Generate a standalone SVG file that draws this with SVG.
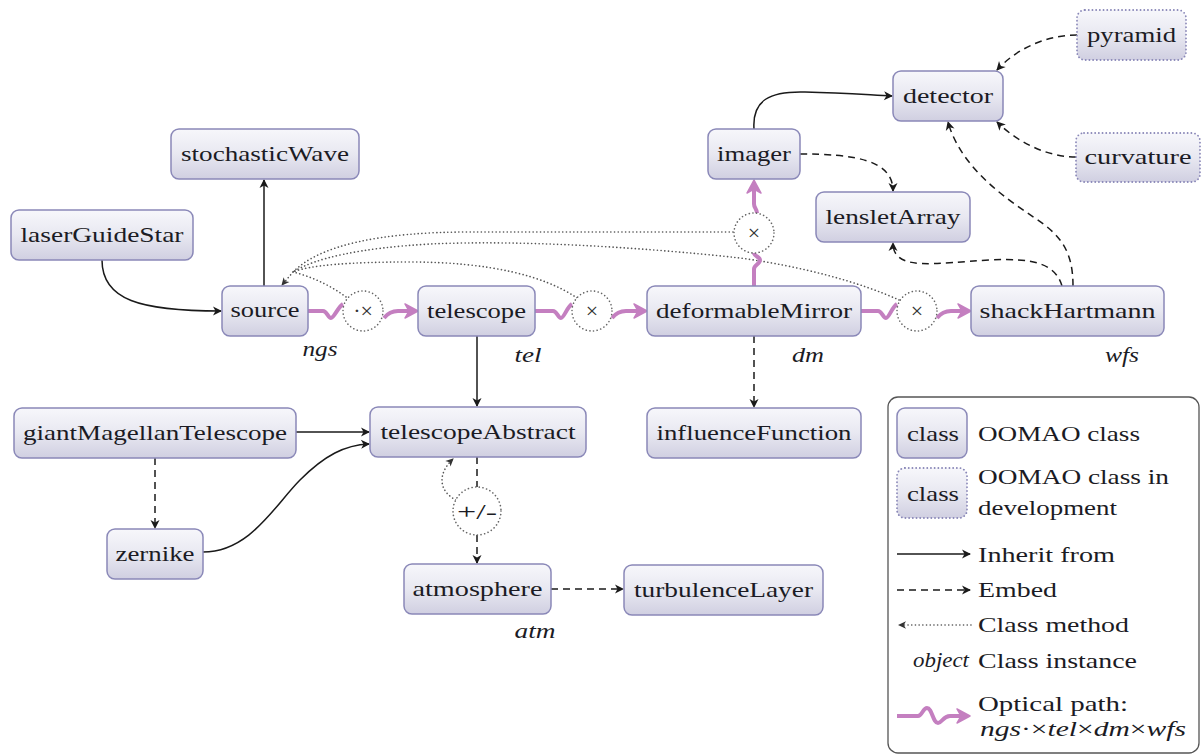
<svg xmlns="http://www.w3.org/2000/svg" width="1203" height="756" viewBox="0 0 1203 756" font-family="Liberation Serif, Tinos, DejaVu Serif, Noto Serif, FreeSerif, serif">
<style>
.box{fill:url(#g);stroke:#8a88b8;stroke-width:1.5}
.dev{fill:url(#g);stroke:#8a88b8;stroke-width:1.8;stroke-dasharray:0.1 3.6;stroke-linecap:round}
.t{font-size:22px;fill:#1b1b24;text-anchor:middle}
.it{font-size:22px;font-style:italic;fill:#1b1b24;text-anchor:middle}
.lt{font-size:22px;fill:#1b1b24}
.sol{fill:none;stroke:#1a1a1a;stroke-width:1.5}
.dash{fill:none;stroke:#1a1a1a;stroke-width:1.5;stroke-dasharray:7 5}
.dot{fill:none;stroke:#555;stroke-width:1.6;stroke-dasharray:0.1 3.6;stroke-linecap:round}
.opt{fill:none;stroke:#c47fc0;stroke-width:4;stroke-linejoin:round}
.circ{fill:#fff;stroke:#666;stroke-width:1.6;stroke-dasharray:0.1 3.6;stroke-linecap:round}
.ct{font-size:22px;fill:#333;text-anchor:middle}
</style>
<defs>
<linearGradient id="g" x1="0" y1="0" x2="0" y2="1">
<stop offset="0" stop-color="#f7f7fb"/>
<stop offset="0.5" stop-color="#e8e8f1"/>
<stop offset="1" stop-color="#d0cfe1"/>
</linearGradient>
<marker id="ab" markerUnits="userSpaceOnUse" markerWidth="20" markerHeight="20" orient="auto" overflow="visible">
<path d="M-8,-4.5 L1,0 L-8,4.5 L-5.5,0 z" fill="#1a1a1a"/>
</marker>
<marker id="ad" markerUnits="userSpaceOnUse" markerWidth="20" markerHeight="20" orient="auto" overflow="visible">
<path d="M-7,-3.8 L1,0 L-7,3.8 L-4.8,0 z" fill="#333"/>
</marker>
<marker id="ap" markerUnits="userSpaceOnUse" markerWidth="30" markerHeight="30" orient="auto" overflow="visible">
<path d="M-9,-7 L4,0 L-9,7 L-5,0 z" fill="#c47fc0" stroke="#c47fc0" stroke-width="1.5" stroke-linejoin="round"/>
</marker>
</defs>
<rect width="1203" height="756" fill="#fff"/>

<g id="connectors">
<path class="sol" d="M102,260 C102,300 140,311 221,311" marker-end="url(#ab)"/>
<path class="sol" d="M264,286 L264,180" marker-end="url(#ab)"/>
<path class="sol" d="M477,336 L477,406" marker-end="url(#ab)"/>
<path class="sol" d="M296,432 L369,432" marker-end="url(#ab)"/>
<path class="sol" d="M203,552 C250,552 275,505 300,480 C325,455 345,445 369,444" marker-end="url(#ab)"/>
<path class="dash" d="M155,458 L155,528" marker-end="url(#ab)"/>
<path class="dash" d="M477,457 L477,487"/>
<path class="dash" d="M477,535 L477,563" marker-end="url(#ab)"/>
<path class="dot" d="M456,500 C440,492 436,475 453,459" marker-end="url(#ad)"/>
<path class="dash" d="M551,589 L623,589" marker-end="url(#ab)"/>
<path class="dash" d="M754,336 L754,407" marker-end="url(#ab)"/>
<path class="sol" d="M754,129 C752,100 770,91 805,92 C845,93 870,95 892,96" marker-end="url(#ab)"/>
<path class="dash" d="M800,154 C855,154 893,160 893,191" marker-end="url(#ab)"/>
<path class="dash" d="M1062,286 C1055,262 1030,258 990,260 C935,263 893,272 893,243" marker-end="url(#ab)"/>
<path class="dash" d="M1073,286 C1073,250 1060,235 1035,218 C1000,195 960,165 948,122" marker-end="url(#ab)"/>
<path class="dash" d="M1077,35 C1045,35 1015,50 997,70" marker-end="url(#ab)"/>
<path class="dash" d="M1076,157 C1045,157 1015,140 997,122" marker-end="url(#ab)"/>
<path class="dot" d="M733,232 L470,232 C380,232 320,245 293,272"/>
<path class="dot" d="M899,300 C860,282 800,266 740,258 C640,247 520,240 430,244 C360,248 315,258 293,272"/>
<path class="dot" d="M577,298 C545,276 490,262 410,262 C350,262 310,265 293,272"/>
<path class="dot" d="M346,297 C330,285 310,276 293,272"/>
<path class="dot" d="M293,272 L282,285" marker-end="url(#ad)"/>
<path class="opt" d="M308,311 L323,311 C327,311 328,318 331,318 C334,318 338,307 343,304"/>
<path class="opt" d="M384,318 C388,313 392,311 398,311 L414,311" marker-end="url(#ap)"/>
<path class="opt" d="M535,311 L553,311 C557,311 558,318 561,318 C564,318 567,307 572,304"/>
<path class="opt" d="M612,318 C616,313 620,311 626,311 L643,311" marker-end="url(#ap)"/>
<path class="opt" d="M861,311 L878,311 C882,311 883,318 886,318 C889,318 892,307 897,304"/>
<path class="opt" d="M937,318 C941,313 945,311 951,311 L967,311" marker-end="url(#ap)"/>
<path class="opt" d="M754,286 L754,269 C754,265 760,264 760,260 C760,257 754,256 754,253"/>
<path class="opt" d="M757,213 C757,209 754,208 754,204 L754,184" marker-end="url(#ap)"/>
</g>

<g id="op1"><circle class="circ" cx="363" cy="311" r="20"/><text class="ct" x="363" y="318">·×</text></g>
<g id="op2"><circle class="circ" cx="592" cy="311" r="20"/><text class="ct" x="592" y="318">×</text></g>
<g id="op3"><circle class="circ" cx="917" cy="311" r="20"/><text class="ct" x="917" y="318">×</text></g>
<g id="op4"><circle class="circ" cx="754" cy="233" r="20"/><text class="ct" x="754" y="240">×</text></g>
<g id="op5"><circle class="circ" cx="477" cy="511" r="24"/><text class="t" x="477" y="519" textLength="40" lengthAdjust="spacingAndGlyphs">+/-</text></g>

<g id="stochasticWave"><rect class="box" x="171" y="129" width="188" height="50" rx="8"/><text class="t" x="265" y="161" textLength="168" lengthAdjust="spacingAndGlyphs">stochasticWave</text></g>
<g id="laserGuideStar"><rect class="box" x="11" y="210" width="182" height="50" rx="8"/><text class="t" x="102" y="242" textLength="163" lengthAdjust="spacingAndGlyphs">laserGuideStar</text></g>
<g id="source"><rect class="box" x="222" y="286" width="86" height="50" rx="8"/><text class="t" x="265" y="317" textLength="69" lengthAdjust="spacingAndGlyphs">source</text></g>
<g id="telescope"><rect class="box" x="418" y="286" width="117" height="50" rx="8"/><text class="t" x="476.5" y="318" textLength="99" lengthAdjust="spacingAndGlyphs">telescope</text></g>
<g id="deformableMirror"><rect class="box" x="647" y="286" width="214" height="50" rx="8"/><text class="t" x="754" y="318" textLength="196" lengthAdjust="spacingAndGlyphs">deformableMirror</text></g>
<g id="shackHartmann"><rect class="box" x="971" y="286" width="193" height="50" rx="8"/><text class="t" x="1067.5" y="318" textLength="176" lengthAdjust="spacingAndGlyphs">shackHartmann</text></g>
<g id="imager"><rect class="box" x="708" y="129" width="92" height="50" rx="8"/><text class="t" x="754" y="161" textLength="74" lengthAdjust="spacingAndGlyphs">imager</text></g>
<g id="lensletArray"><rect class="box" x="816" y="192" width="154" height="50" rx="8"/><text class="t" x="893" y="224" textLength="135" lengthAdjust="spacingAndGlyphs">lensletArray</text></g>
<g id="detector"><rect class="box" x="893" y="71" width="110" height="50" rx="8"/><text class="t" x="948" y="103" textLength="90" lengthAdjust="spacingAndGlyphs">detector</text></g>
<g id="pyramid"><rect class="dev" x="1077" y="10" width="109" height="50" rx="8"/><text class="t" x="1131.5" y="42" textLength="89" lengthAdjust="spacingAndGlyphs">pyramid</text></g>
<g id="curvature"><rect class="dev" x="1076" y="133" width="124" height="49" rx="8"/><text class="t" x="1138" y="164" textLength="107" lengthAdjust="spacingAndGlyphs">curvature</text></g>
<g id="giantMagellanTelescope"><rect class="box" x="14" y="408" width="282" height="50" rx="8"/><text class="t" x="155" y="440" textLength="264" lengthAdjust="spacingAndGlyphs">giantMagellanTelescope</text></g>
<g id="zernike"><rect class="box" x="107" y="529" width="96" height="50" rx="8"/><text class="t" x="155" y="561" textLength="79" lengthAdjust="spacingAndGlyphs">zernike</text></g>
<g id="telescopeAbstract"><rect class="box" x="370" y="407" width="216" height="50" rx="8"/><text class="t" x="478" y="439" textLength="195" lengthAdjust="spacingAndGlyphs">telescopeAbstract</text></g>
<g id="atmosphere"><rect class="box" x="404" y="564" width="147" height="50" rx="8"/><text class="t" x="477.5" y="596" textLength="130" lengthAdjust="spacingAndGlyphs">atmosphere</text></g>
<g id="turbulenceLayer"><rect class="box" x="624" y="565" width="199" height="50" rx="8"/><text class="t" x="723.5" y="597" textLength="179" lengthAdjust="spacingAndGlyphs">turbulenceLayer</text></g>
<g id="influenceFunction"><rect class="box" x="647" y="408" width="214" height="50" rx="8"/><text class="t" x="754" y="440" textLength="195" lengthAdjust="spacingAndGlyphs">influenceFunction</text></g>

<g id="instances">
<text class="it" x="320" y="356" textLength="35" lengthAdjust="spacingAndGlyphs">ngs</text>
<text class="it" x="528" y="362" textLength="27" lengthAdjust="spacingAndGlyphs">tel</text>
<text class="it" x="808" y="362" textLength="32" lengthAdjust="spacingAndGlyphs">dm</text>
<text class="it" x="1122" y="362" textLength="34" lengthAdjust="spacingAndGlyphs">wfs</text>
<text class="it" x="535" y="638" textLength="41" lengthAdjust="spacingAndGlyphs">atm</text>
</g>

<g id="legend">
<rect x="888" y="397" width="311" height="356" rx="10" fill="#fff" stroke="#555" stroke-width="1.3"/>
<rect class="box" x="897" y="408" width="70" height="50" rx="8"/>
<text class="t" x="933" y="441" textLength="52" lengthAdjust="spacingAndGlyphs">class</text>
<text class="lt" x="978" y="441" textLength="162" lengthAdjust="spacingAndGlyphs">OOMAO class</text>
<rect class="dev" x="897" y="468" width="70" height="50" rx="8"/>
<text class="t" x="933" y="501" textLength="52" lengthAdjust="spacingAndGlyphs">class</text>
<text class="lt" x="978" y="484" textLength="191" lengthAdjust="spacingAndGlyphs">OOMAO class in</text>
<text class="lt" x="978" y="515" textLength="139" lengthAdjust="spacingAndGlyphs">development</text>
<path class="sol" d="M897,554 L970,554" marker-end="url(#ab)"/>
<text class="lt" x="978" y="562" textLength="137" lengthAdjust="spacingAndGlyphs">Inherit from</text>
<path class="dash" d="M897,590 L970,590" marker-end="url(#ab)"/>
<text class="lt" x="978" y="597" textLength="79" lengthAdjust="spacingAndGlyphs">Embed</text>
<path class="dot" d="M971,625 L899,625" marker-end="url(#ad)"/>
<text class="lt" x="978" y="632" textLength="151" lengthAdjust="spacingAndGlyphs">Class method</text>
<text class="it" x="941" y="667" textLength="56" lengthAdjust="spacingAndGlyphs">object</text>
<text class="lt" x="978" y="668" textLength="159" lengthAdjust="spacingAndGlyphs">Class instance</text>
<path class="opt" d="M897,716 L918,716 C922,716 923,708 927,708 C932,708 933,723 938,723 C942,723 943,716 950,716 L966,716" marker-end="url(#ap)"/>
<text class="lt" x="978" y="711" textLength="150" lengthAdjust="spacingAndGlyphs">Optical path:</text>
<text class="lt" x="980" y="736" textLength="206" lengthAdjust="spacingAndGlyphs"><tspan font-style="italic">ngs</tspan>·×<tspan font-style="italic">tel</tspan>×<tspan font-style="italic">dm</tspan>×<tspan font-style="italic">wfs</tspan></text>
</g>
</svg>
